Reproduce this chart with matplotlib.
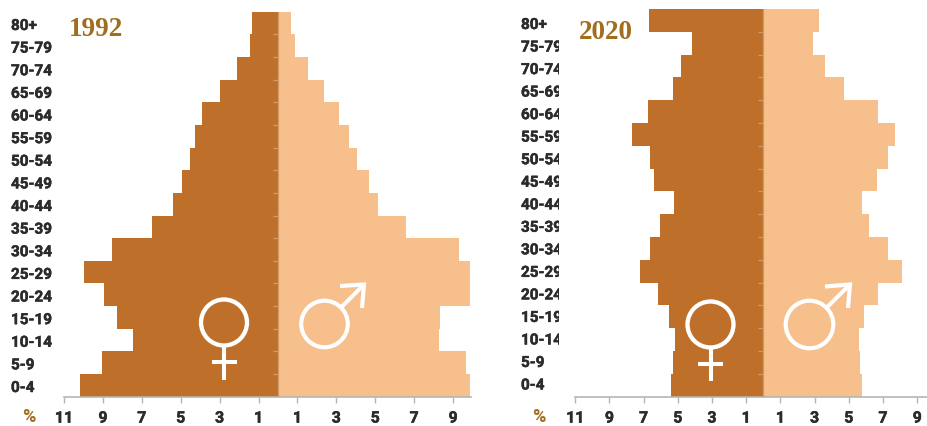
import math
import matplotlib
matplotlib.use("Agg")
import matplotlib.pyplot as plt
import matplotlib.patheffects as pe
from matplotlib.patches import Circle, Rectangle
from matplotlib.lines import Line2D
from matplotlib.transforms import Affine2D

W, H = 928, 427
ages = ["0-4", "5-9", "10-14", "15-19", "20-24", "25-29", "30-34", "35-39", "40-44",
        "45-49", "50-54", "55-59", "60-64", "65-69", "70-74", "75-79", "80+"]
female_1992 = [10.16, 9.05, 7.46, 8.27, 8.93, 9.97, 8.54, 6.47, 5.41,
               4.91, 4.52, 4.25, 3.92, 2.96, 2.11, 1.46, 1.31]
male_1992 = [9.87, 9.65, 8.30, 8.35, 9.87, 9.87, 9.31, 6.57, 5.15,
             4.69, 4.08, 3.67, 3.15, 2.38, 1.56, 0.88, 0.69]
female_2020 = [5.40, 5.26, 5.18, 5.50, 6.14, 7.21, 6.61, 6.02, 5.24,
               6.39, 6.61, 7.70, 6.72, 5.28, 4.81, 4.15, 6.68]
male_2020 = [5.80, 5.66, 5.58, 5.87, 6.73, 8.13, 7.30, 6.18, 5.77,
             6.65, 7.30, 7.70, 6.70, 4.72, 3.60, 2.90, 3.26]
left_ticks = [11, 9, 7, 5, 3, 1]
right_ticks = [1, 3, 5, 7, 9]

FEMALE, MALE = "#BE702A", "#F6BF8C"
DARK, GOLD, GRID = "#2B2B2B", "#A16D1F", "#B5B5B5"
plt.rcParams["font.family"] = ["Roboto", "DejaVu Sans"]
LABEL_SIZE = 11.0
HEAVY = [pe.withStroke(linewidth=0.35, foreground=DARK)]

fig = plt.figure(figsize=(W / 100, H / 100), dpi=100)
px = Affine2D().scale(1, -1).translate(0, H)

def panel(x0, x1, center, unit, top, bottom, female, male, year, year_xy,
          label_x, label_top, label_bottom, pct_x, clip_x=None):
    ax = fig.add_axes([x0 / W, 1 - bottom / H, (x1 - x0) / W, (bottom - top) / H])
    ax.set_xlim((x0 - center) / unit, (x1 - center) / unit)
    ax.set_ylim(-0.5, len(ages) - 0.5)
    ys = range(len(ages))
    ax.barh(ys, [-v for v in female], height=1.0, color=FEMALE, linewidth=0)
    ax.barh(ys, male, height=1.0, color=MALE, linewidth=0)
    ax.axvline(0, color="#CF9A68", lw=0.9, zorder=3)
    for s in ("top", "left", "right"):
        ax.spines[s].set_visible(False)
    ax.spines["bottom"].set_color(GRID)
    ax.spines["bottom"].set_linewidth(1.2)
    ax.set_yticks([])
    ax.set_xticks([-t for t in left_ticks] + right_ticks)
    ax.set_xticklabels([str(t) for t in left_ticks + right_ticks])
    ax.tick_params(axis="x", length=4.0, width=1.0, color=GRID, labelcolor=DARK, pad=6,
                   labelsize=LABEL_SIZE + 0.4)
    for lab in ax.get_xticklabels():
        lab.set_fontweight("bold")
        lab.set_path_effects(HEAVY)
    for b in range(1, len(ages)):
        ax.plot([-5 / unit, 0], [b - 0.5, b - 0.5], color="#D09C6C", lw=0.9, zorder=3,
                solid_capstyle="butt")
    n = len(ages)
    for i, lab in enumerate(ages):
        y = label_bottom + (label_top - label_bottom) * i / (n - 1)
        t = fig.text(label_x, y, lab, transform=px, ha="left", va="center_baseline",
                     color=DARK, fontsize=LABEL_SIZE, fontweight="bold", path_effects=HEAVY)
        if clip_x is not None:
            t.set_clip_path(Rectangle((0, 0), clip_x, H, transform=px))
    fig.text(year_xy[0], year_xy[1], year, transform=px, family="Liberation Serif",
             fontsize=19.5, fontweight="bold", color=GOLD, ha="left", va="baseline")
    fig.text(pct_x, 422, "%", transform=px, color=GOLD, fontsize=LABEL_SIZE + 2, fontweight="bold",
             ha="center", va="baseline")
    return ax

def female_icon(cx, cy, r, stem_end, bar_y, bar_hw):
    fig.add_artist(Circle((cx, cy), r, transform=px, fill=False, ec="white", lw=3.1))
    fig.add_artist(Line2D([cx, cx], [cy + r, stem_end], transform=px, color="white", lw=2.9,
                          solid_capstyle="butt"))
    fig.add_artist(Line2D([cx - bar_hw, cx + bar_hw], [bar_y, bar_y], transform=px, color="white",
                          lw=2.9, solid_capstyle="butt"))

def male_icon(cx, cy, r, tip, head_a, head_b):
    dx, dy = tip[0] - cx, tip[1] - cy
    d = math.hypot(dx, dy)
    sx, sy = cx + dx / d * r, cy + dy / d * r
    fig.add_artist(Circle((cx, cy), r, transform=px, fill=False, ec="white", lw=3.0))
    fig.add_artist(Line2D([sx, tip[0]], [sy, tip[1]], transform=px, color="white", lw=2.9,
                          solid_capstyle="butt"))
    fig.add_artist(Line2D([head_a[0], tip[0], head_b[0]], [head_a[1], tip[1], head_b[1]],
                          transform=px, color="white", lw=3.0, solid_joinstyle="miter",
                          solid_capstyle="butt"))

panel(64, 471, 277.5, 19.5, 12.7, 397.7, female_1992, male_1992, "1992", (69, 36),
      11, 25.5, 387.5, 28.5)
panel(575, 928, 763.3, 17.1, 10, 397.7, female_2020, male_2020, "2020", (579, 39),
      521, 24.5, 385, 539, clip_x=559)

female_icon(224, 323.5, 23, 381, 363, 12.5)
male_icon(324.5, 325, 23.3, (364, 285.5), (340, 287), (362, 309))
female_icon(710.5, 325.5, 23, 382, 364.5, 12.5)
male_icon(809.5, 325.5, 23.8, (850, 285.5), (825, 287.5), (848, 309))

fig.savefig("out.png", dpi=100)
